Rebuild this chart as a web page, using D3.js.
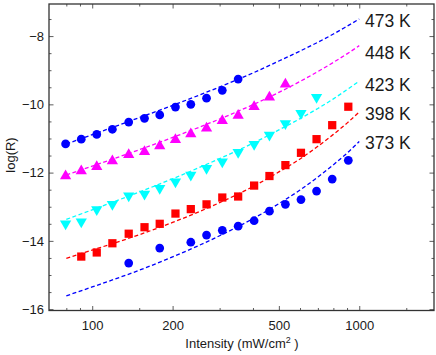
<!DOCTYPE html>
<html>
<head>
<meta charset="utf-8">
<script src="https://cdn.jsdelivr.net/npm/d3@7"></script>
<style>
body { margin: 0; background: #fff; }
text { font-family: "Liberation Sans", Arial, sans-serif; fill: #1a1a1a; }
</style>
</head>
<body>
<div id="chart"></div>
<script>
// measured points (intensity in mW/cm2, log R)
var x473 = [79.5, 91, 104, 119, 137, 157, 179, 205, 234, 268, 307, 352];
var y473 = [-11.16, -11.02, -10.88, -10.73, -10.52, -10.41, -10.31, -10.08, -10.00, -9.82, -9.59, -9.26];

var x448 = [79.5, 91, 104, 119, 137, 157, 179, 205, 234, 268, 307, 352, 404, 461, 529];
var y448 = [-12.10, -11.95, -11.83, -11.66, -11.48, -11.39, -11.22, -11.04, -10.87, -10.70, -10.48, -10.33, -10.07, -9.79, -9.41];

var x423 = [79.5, 91, 104, 119, 137, 157, 179, 205, 234, 268, 307, 352, 404, 461, 529, 605, 692];
var y423 = [-13.50, -13.44, -13.08, -12.93, -12.68, -12.63, -12.46, -12.27, -12.07, -11.87, -11.68, -11.40, -11.17, -10.90, -10.56, -10.26, -9.79];

var x398 = [91, 104, 119, 137, 157, 179, 205, 234, 268, 307, 352, 404, 461, 529, 605, 692, 792, 910];
var y398 = [-14.46, -14.34, -14.07, -13.79, -13.60, -13.50, -13.20, -13.07, -12.93, -12.73, -12.70, -12.38, -12.10, -11.78, -11.42, -11.02, -10.61, -10.07];

var x373 = [137, 179, 234, 268, 307, 352, 404, 461, 529, 605, 692, 792, 910];
var y373 = [-14.65, -14.21, -14.04, -13.83, -13.69, -13.57, -13.41, -13.13, -12.93, -12.79, -12.54, -12.19, -11.64];

// fitted curves
var fitX = [80, 100, 150, 200, 300, 400, 500, 600, 700, 800, 900, 1000];
var fit473 = [-11.16, -10.89, -10.39, -10.03, -9.49, -9.08, -8.73, -8.44, -8.18, -7.94, -7.71, -7.50];
var fit448 = [-12.07, -11.81, -11.33, -10.97, -10.43, -10.01, -9.65, -9.33, -9.04, -8.77, -8.52, -8.28];
var fit423 = [-13.37, -13.09, -12.57, -12.18, -11.59, -11.14, -10.75, -10.42, -10.12, -9.84, -9.57, -9.32];
var fit398 = [-14.51, -14.27, -13.82, -13.46, -12.88, -12.41, -11.98, -11.60, -11.23, -10.88, -10.55, -10.22];
var fit373 = [-15.61, -15.35, -14.86, -14.47, -13.85, -13.35, -12.91, -12.51, -12.13, -11.77, -11.43, -11.09];

var temps = ["473 K", "448 K", "423 K", "398 K", "373 K"];
var colors = ["#0000ff", "#ff00ff", "#00ffff", "#ff0000", "#0000ff"];

var xMajor = [100, 200, 500, 1000];
var xMinor = [80, 90, 150, 300, 400, 600, 700, 800, 900, 1500];
var yMajor = [-16, -14, -12, -10, -8];
var yMinor = [-15.5, -15, -14.5, -13.5, -13, -12.5, -11.5, -11, -10.5, -9.5, -9, -8.5, -7.5];

var W = 436, H = 355;
var L = 49, R = 434, T = 4, B = 310.5;

var svg = d3.select("#chart").append("svg")
    .attr("width", W)
    .attr("height", H);

var x = d3.scaleLog().domain([68.9, 1905]).range([L, R]);
var y = d3.scaleLinear().domain([-16.04, -7.06]).range([B, T]);

var series = [
    {xs: x473, ys: y473, fit: fit473, shape: "circle"},
    {xs: x448, ys: y448, fit: fit448, shape: "up"},
    {xs: x423, ys: y423, fit: fit423, shape: "down"},
    {xs: x398, ys: y398, fit: fit398, shape: "square"},
    {xs: x373, ys: y373, fit: fit373, shape: "circle"}
];

// frame ticks, all pointing inward
var axisCol = "#333";
function ticks(axis, vals, size) {
    return axis.tickValues(vals).tickSize(size).tickFormat("");
}
svg.append("g").attr("transform", "translate(0," + B + ")")
    .call(ticks(d3.axisBottom(x), xMinor, -2.5));
svg.append("g").attr("transform", "translate(0," + B + ")")
    .call(d3.axisBottom(x).tickValues(xMajor).tickSize(-4.5).tickPadding(10).tickFormat(d3.format("d")));
svg.append("g").attr("transform", "translate(0," + T + ")")
    .call(ticks(d3.axisTop(x), xMinor, -2.5));
svg.append("g").attr("transform", "translate(0," + T + ")")
    .call(ticks(d3.axisTop(x), xMajor, -4.5));
svg.append("g").attr("transform", "translate(" + L + ",0)")
    .call(ticks(d3.axisLeft(y), yMinor, -2.5));
svg.append("g").attr("transform", "translate(" + L + ",0)")
    .call(d3.axisLeft(y).tickValues(yMajor).tickSize(-4.5).tickPadding(5));
svg.append("g").attr("transform", "translate(" + R + ",0)")
    .call(ticks(d3.axisRight(y), yMinor, -2.5));
svg.append("g").attr("transform", "translate(" + R + ",0)")
    .call(ticks(d3.axisRight(y), yMajor, -4.5));

svg.selectAll(".domain").remove();
svg.selectAll(".tick line").attr("stroke", axisCol).attr("stroke-width", 0.8);
svg.selectAll(".tick text").attr("font-size", "13px").attr("fill", "#1a1a1a")
    .style("font-family", "'Liberation Sans', Arial, sans-serif");

svg.append("rect")
    .attr("x", L).attr("y", T)
    .attr("width", R - L).attr("height", B - T)
    .attr("fill", "none").attr("stroke", axisCol).attr("stroke-width", 1.3);

// dashed fits
var line = d3.line()
    .x(function(d) { return x(d[0]); })
    .y(function(d) { return y(d[1]); })
    .curve(d3.curveMonotoneX);

series.forEach(function(s, i) {
    svg.append("path")
        .datum(d3.zip(fitX, s.fit))
        .attr("d", line)
        .attr("fill", "none")
        .attr("stroke", colors[i])
        .attr("stroke-width", 1.3)
        .attr("stroke-dasharray", "4,2.5");
});

// markers
var symbols = {
    circle: d3.symbol().type(d3.symbolCircle).size(60),
    up: d3.symbol().type(d3.symbolTriangle).size(55),
    down: d3.symbol().type(d3.symbolTriangle).size(55),
    square: d3.symbol().type(d3.symbolSquare).size(68)
};

series.forEach(function(s, i) {
    svg.append("g").selectAll("path")
        .data(d3.zip(s.xs, s.ys))
        .enter().append("path")
        .attr("d", symbols[s.shape])
        .attr("transform", function(d) {
            return "translate(" + x(d[0]) + "," + y(d[1]) + ")" + (s.shape == "down" ? " rotate(180)" : "");
        })
        .attr("fill", colors[i]);
});

// temperature labels
var labelY = [27, 59, 91, 120, 149];
svg.selectAll(".temp")
    .data(temps)
    .enter().append("text")
    .attr("class", "temp")
    .attr("x", 365)
    .attr("y", function(d, i) { return labelY[i]; })
    .attr("font-size", "17.5px")
    .text(function(d) { return d; });

// axis titles
svg.append("text")
    .attr("transform", "translate(15,155) rotate(-90)")
    .attr("text-anchor", "middle")
    .attr("font-size", "13px")
    .text("log(R)");

var xt = svg.append("text")
    .attr("x", 242)
    .attr("y", 348)
    .attr("text-anchor", "middle")
    .attr("font-size", "13px");
xt.append("tspan").text("Intensity (mW/cm");
xt.append("tspan").attr("dy", -5).attr("font-size", "9px").text("2");
xt.append("tspan").attr("dy", 5).text(" )");
</script>
</body>
</html>
